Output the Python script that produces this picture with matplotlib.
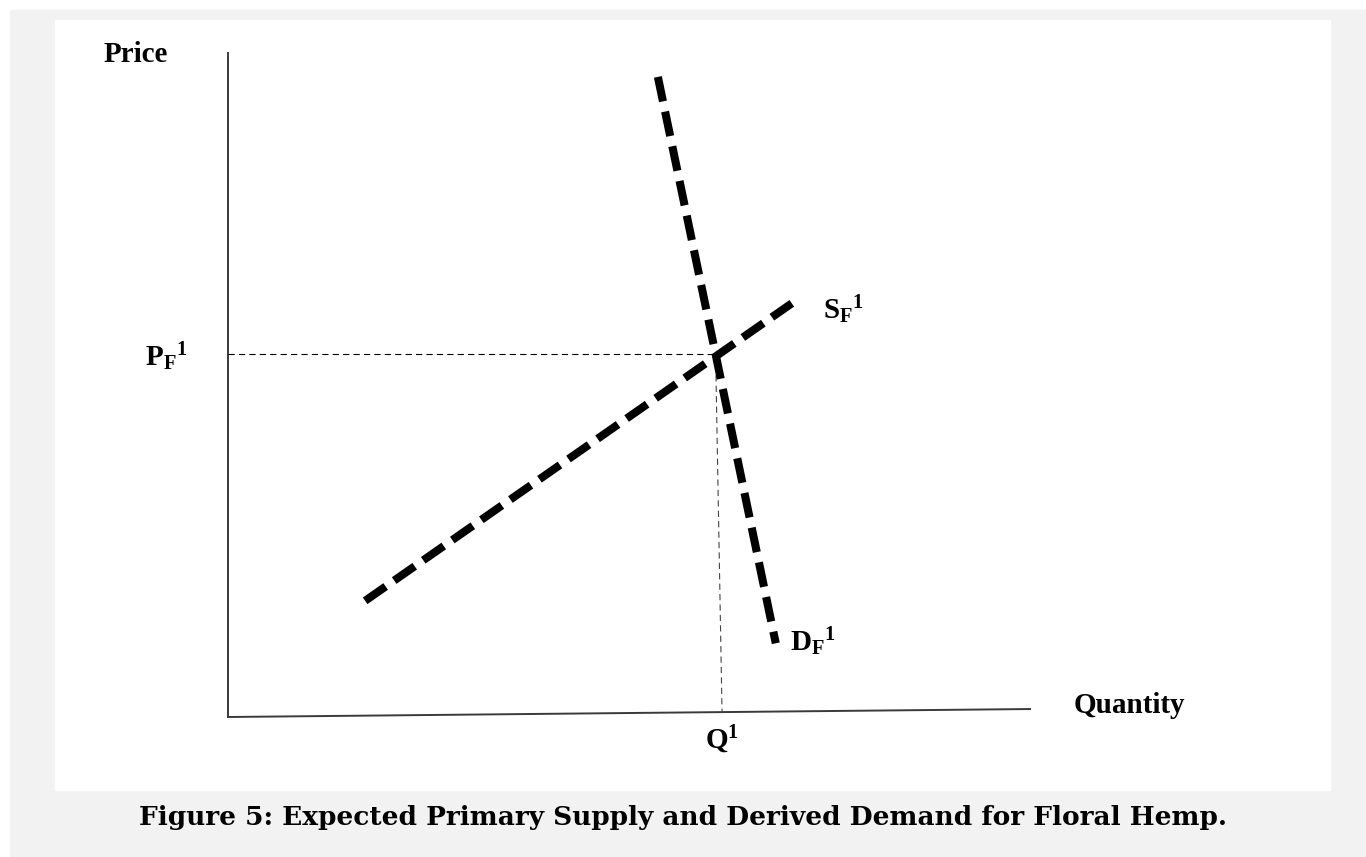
import matplotlib
matplotlib.use("Agg")
import matplotlib.pyplot as plt
from matplotlib.patches import Rectangle

# curves in "diagram units" (both axes run 0..100)
supply_q = [17.1, 70.3]
supply_p = [17.5, 62.3]
demand_q = [53.6, 68.3]
demand_p = [96.4, 11.1]
eq_q, eq_p = 60.8, 54.6
q_line_bottom = [61.6, 0.8]

labels = ["Price", "$P_{F}{}^{1}$", "$Q^{1}$", "$D_{F}{}^{1}$", "$S_{F}{}^{1}$", "Quantity"]
label_x = [-11.5, -10.3, 61.6, 70.1, 74.2, 105.4]
label_y = [99.8, 54.3, -3.5, 11.3, 61.3, 1.8]
label_ha = ["center", "left", "center", "left", "left", "left"]

caption = "Figure 5: Expected Primary Supply and Derived Demand for Floral Hemp."

plt.rcParams['lines.scale_dashes'] = False
plt.rcParams['mathtext.fontset'] = 'custom'
plt.rcParams['mathtext.rm'] = 'Liberation Serif:bold'
plt.rcParams['mathtext.bf'] = 'Liberation Serif:bold'
plt.rcParams['mathtext.it'] = 'Liberation Serif:bold'
plt.rcParams['mathtext.default'] = 'bf'

W, H = 1366, 857
fig = plt.figure(figsize=(W / 100, H / 100), dpi=100, facecolor='white')

# grey page and white panel behind the diagram
fig.patches.append(Rectangle((10 / W, 0), 1 - 10 / W, 1 - 10 / H,
                             transform=fig.transFigure, color='#f2f2f2', zorder=0))
fig.patches.append(Rectangle((55 / W, 1 - 790 / H), (1330 - 55) / W, (790 - 20) / H,
                             transform=fig.transFigure, color='white', zorder=1))

ax = fig.add_axes([228 / W, 1 - 717 / H, 802 / W, 664 / H])
ax.set_zorder(5)
ax.set_xlim(0, 100)
ax.set_ylim(0, 100)
ax.axis('off')

# axes of the diagram
ax.plot([0, 0], [0, 100], color='#3a3a3a', lw=1.4, clip_on=False)
ax.plot([0, 100], [0, 1.2], color='#3a3a3a', lw=1.4, clip_on=False)

# guide lines
ax.plot([0, eq_q], [eq_p, eq_p], color='black', lw=0.8, ls=(0, (4.5, 3)), clip_on=False)
ax.plot([eq_q, q_line_bottom[0]], [eq_p, q_line_bottom[1]], color='#444444', lw=0.8,
        ls=(0, (4.5, 3)), clip_on=False)

# supply and demand
ax.plot(supply_q, supply_p, color='black', lw=5.8, ls=(0, (18, 7.5)), clip_on=False)
ax.plot(demand_q, demand_p, color='black', lw=5.8, ls=(0, (18, 7.5)), clip_on=False)

for txt, x, y, ha in zip(labels, label_x, label_y, label_ha):
    ax.text(x, y, txt, ha=ha, va='center', fontsize=21, fontweight='bold',
            family='Liberation Serif', clip_on=False)

fig.text(0.5, 1 - 817 / H, caption, ha='center', va='center', fontsize=19,
         fontweight='bold', family='DejaVu Serif', zorder=5)

fig.savefig('out.png', dpi=100, facecolor='white')
